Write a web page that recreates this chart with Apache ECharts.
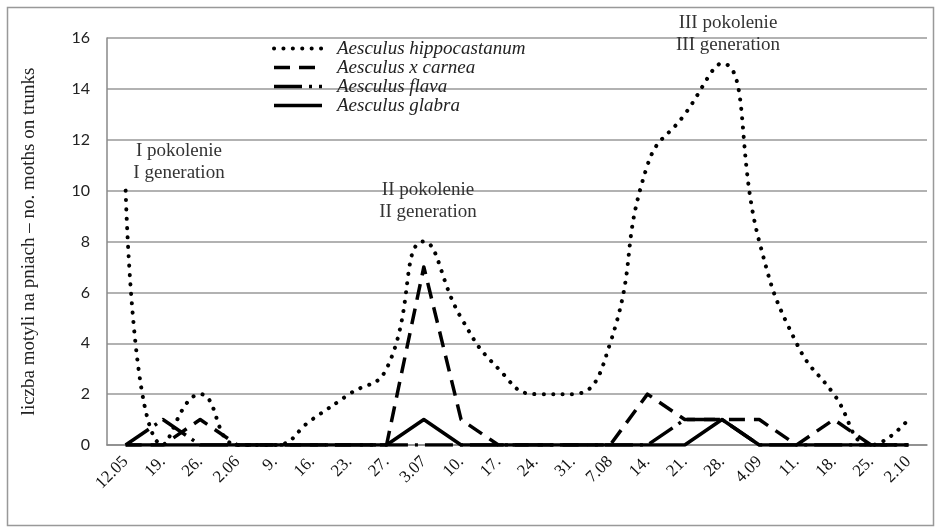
<!DOCTYPE html>
<html>
<head>
<meta charset="utf-8">
<script src="https://cdn.jsdelivr.net/npm/echarts@6/dist/echarts.min.js"></script>
<style>html,body{margin:0;padding:0;background:#fff}#c{width:936px;height:529px}</style>
</head>
<body>
<div id="c"></div>
<script>
var categories = ['12.05','19.','26.','2.06','9.','16.','23.','27.','3.07','10.','17.','24.','31.','7.08','14.','21.','28.','4.09','11.','18.','25.','2.10'];
var hippocastanum = [10,0,2,0,0,1,2,3,8,5,3,2,2,4,11,13,15,8,4,2,0,1];
var carnea = [0,0,1,0,0,0,0,0,7,1,0,0,0,0,2,1,1,1,0,1,0,0];
var flava = [0,1,0,0,0,0,0,0,0,0,0,0,0,0,0,1,1,0,0,0,0,0];
var glabra = [0,0,0,0,0,0,0,0,1,0,0,0,0,0,0,0,1,0,0,0,0,0];
var seriesNames = ['Aesculus hippocastanum','Aesculus x carnea','Aesculus flava','Aesculus glabra'];
var yTicks = [0,2,4,6,8,10,12,14,16];
var annotations = [
  {text:'I pokolenie\nI generation', x:179, y:162},
  {text:'II pokolenie\nII generation', x:428, y:201},
  {text:'III pokolenie\nIII generation', x:728, y:34}
];

var serif = "'Liberation Serif', 'DejaVu Serif', serif";
var styles = [
  {type:[0.1, 9.3], width:4, cap:'round', smooth:0.5},
  {type:[16, 9], width:3.5, cap:'butt', smooth:false},
  {type:[28, 7, 3, 7], width:3.5, cap:'butt', smooth:false},
  {type:'solid', width:3.5, cap:'butt', smooth:false}
];
var dataSets = [hippocastanum, carnea, flava, glabra];

var chart = echarts.init(document.getElementById('c'), null, {renderer:'canvas'});
var series = dataSets.map(function(d, i){
  return {
    name: seriesNames[i], type:'line', data:d, symbol:'none', smooth:styles[i].smooth,
    z: 10 - i,
    itemStyle:{color:'#000'},
    lineStyle:{color:'#000', width:styles[i].width, type:styles[i].type, cap:styles[i].cap, join:'round'}
  };
});

chart.setOption({
  animation:false,
  backgroundColor:'#fff',
  textStyle:{fontFamily:serif},
  grid:{left:107, right:9, top:38, bottom:84, containLabel:false},
  legend:{
    orient:'vertical', left:272, top:39, padding:0, itemGap:0, itemWidth:48, itemHeight:19,
    itemStyle:{opacity:0},
    data: seriesNames.map(function(n,i){
      return {name:n, itemStyle:{opacity:0}, lineStyle:{color:'#000', width:styles[i].width, type:styles[i].type, cap:styles[i].cap}};
    }),
    textStyle:{fontFamily:serif, fontStyle:'italic', fontSize:19, lineHeight:19, color:'#222', padding:[0,0,0,10]}
  },
  xAxis:{
    type:'category', data:categories, boundaryGap:true,
    axisLine:{show:true, lineStyle:{color:'#888', width:1.5}},
    axisTick:{show:false},
    axisLabel:{rotate:45, fontFamily:serif, fontSize:17, color:'#111', margin:14, interval:0}
  },
  yAxis:{
    type:'value', min:0, max:16, interval:2,
    name:'liczba motyli na pniach – no. moths on trunks', nameLocation:'middle', nameGap:68,
    nameTextStyle:{fontFamily:serif, fontSize:19, color:'#222'},
    axisLine:{show:true, lineStyle:{color:'#888', width:1.5}},
    axisTick:{show:false},
    axisLabel:{fontFamily:'Lato', fontSize:16, color:'#222', margin:17,
      formatter:function(v){ return yTicks.indexOf(v) >= 0 ? String(v) : ''; }},
    splitLine:{show:true, lineStyle:{color:'#999', width:1.5}}
  },
  graphic:[
    {type:'rect', left:5, top:5, shape:{width:926, height:518}, style:{fill:'none', stroke:'#999', lineWidth:1.5}, silent:true, z:-10}
  ].concat(annotations.map(function(a){
    return {type:'text', x:a.x, y:a.y, style:{text:a.text, fontFamily:serif, fontSize:19, lineHeight:22, fill:'#333', align:'center', verticalAlign:'middle'}, z:100};
  })),
  series: series
});
</script>
</body>
</html>
